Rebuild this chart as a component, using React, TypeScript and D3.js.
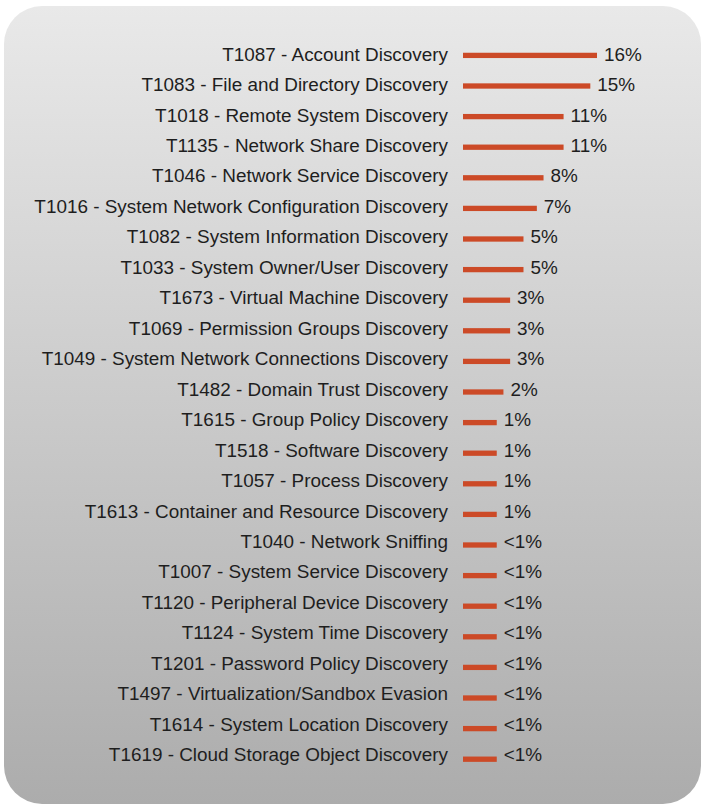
import React from "react";
import * as d3 from "d3";

const techniques = [
  "T1087 - Account Discovery",
  "T1083 - File and Directory Discovery",
  "T1018 - Remote System Discovery",
  "T1135 - Network Share Discovery",
  "T1046 - Network Service Discovery",
  "T1016 - System Network Configuration Discovery",
  "T1082 - System Information Discovery",
  "T1033 - System Owner/User Discovery",
  "T1673 - Virtual Machine Discovery",
  "T1069 - Permission Groups Discovery",
  "T1049 - System Network Connections Discovery",
  "T1482 - Domain Trust Discovery",
  "T1615 - Group Policy Discovery",
  "T1518 - Software Discovery",
  "T1057 - Process Discovery",
  "T1613 - Container and Resource Discovery",
  "T1040 - Network Sniffing",
  "T1007 - System Service Discovery",
  "T1120 - Peripheral Device Discovery",
  "T1124 - System Time Discovery",
  "T1201 - Password Policy Discovery",
  "T1497 - Virtualization/Sandbox Evasion",
  "T1614 - System Location Discovery",
  "T1619 - Cloud Storage Object Discovery",
];

const values = [16, 15, 11, 11, 8, 7, 5, 5, 3, 3, 3, 2, 1, 1, 1, 1, 1, 1, 1, 1, 1, 1, 1, 1];

const valueLabels = [
  "16%", "15%", "11%", "11%", "8%", "7%", "5%", "5%", "3%", "3%", "3%", "2%",
  "1%", "1%", "1%", "1%", "<1%", "<1%", "<1%", "<1%", "<1%", "<1%", "<1%", "<1%",
];

const W = 701;
const H = 804;

export default function App() {
  const x = d3.scaleLinear().domain([-4.05, 16]).range([463, 597]);
  const yBar = d3.scaleBand().domain(techniques).range([40.1, 774.5]);
  const yText = d3.scaleBand().domain(techniques).range([40, 771]);
  const barH = 5.3;
  const font = "'Liberation Sans', Arial, Helvetica, sans-serif";
  const fs = 18.9;

  return (
    <div style={{ position: "absolute", left: 0, top: 0 }}>
      <svg width={W} height={H} style={{ display: "block" }}>
        <defs>
          <linearGradient id="bg" x1="0" y1="0" x2="0" y2="1">
            <stop offset="0" stopColor="#e9e9e9" />
            <stop offset="1" stopColor="#acacac" />
          </linearGradient>
        </defs>
        <rect x={4} y={6} width={697} height={798} rx={38} ry={38} fill="url(#bg)" />
        {techniques.map((t, i) => {
          const cyBar = (yBar(t) as number) + yBar.bandwidth() / 2;
          const ty = (yText(t) as number) + yText.bandwidth() / 2 + 5.4;
          const xEnd = x(values[i]);
          return (
            <g key={t}>
              <text
                x={448}
                y={ty}
                textAnchor="end"
                fontFamily={font}
                fontSize={fs}
                fill="#1e1e1e"
              >
                {t}
              </text>
              <rect
                x={x.range()[0]}
                y={cyBar - barH / 2}
                width={xEnd - x.range()[0]}
                height={barH}
                fill="#cc4a27"
              />
              <text
                x={xEnd + 7}
                y={ty}
                fontFamily={font}
                fontSize={fs}
                fill="#1e1e1e"
              >
                {valueLabels[i]}
              </text>
            </g>
          );
        })}
      </svg>
    </div>
  );
}
